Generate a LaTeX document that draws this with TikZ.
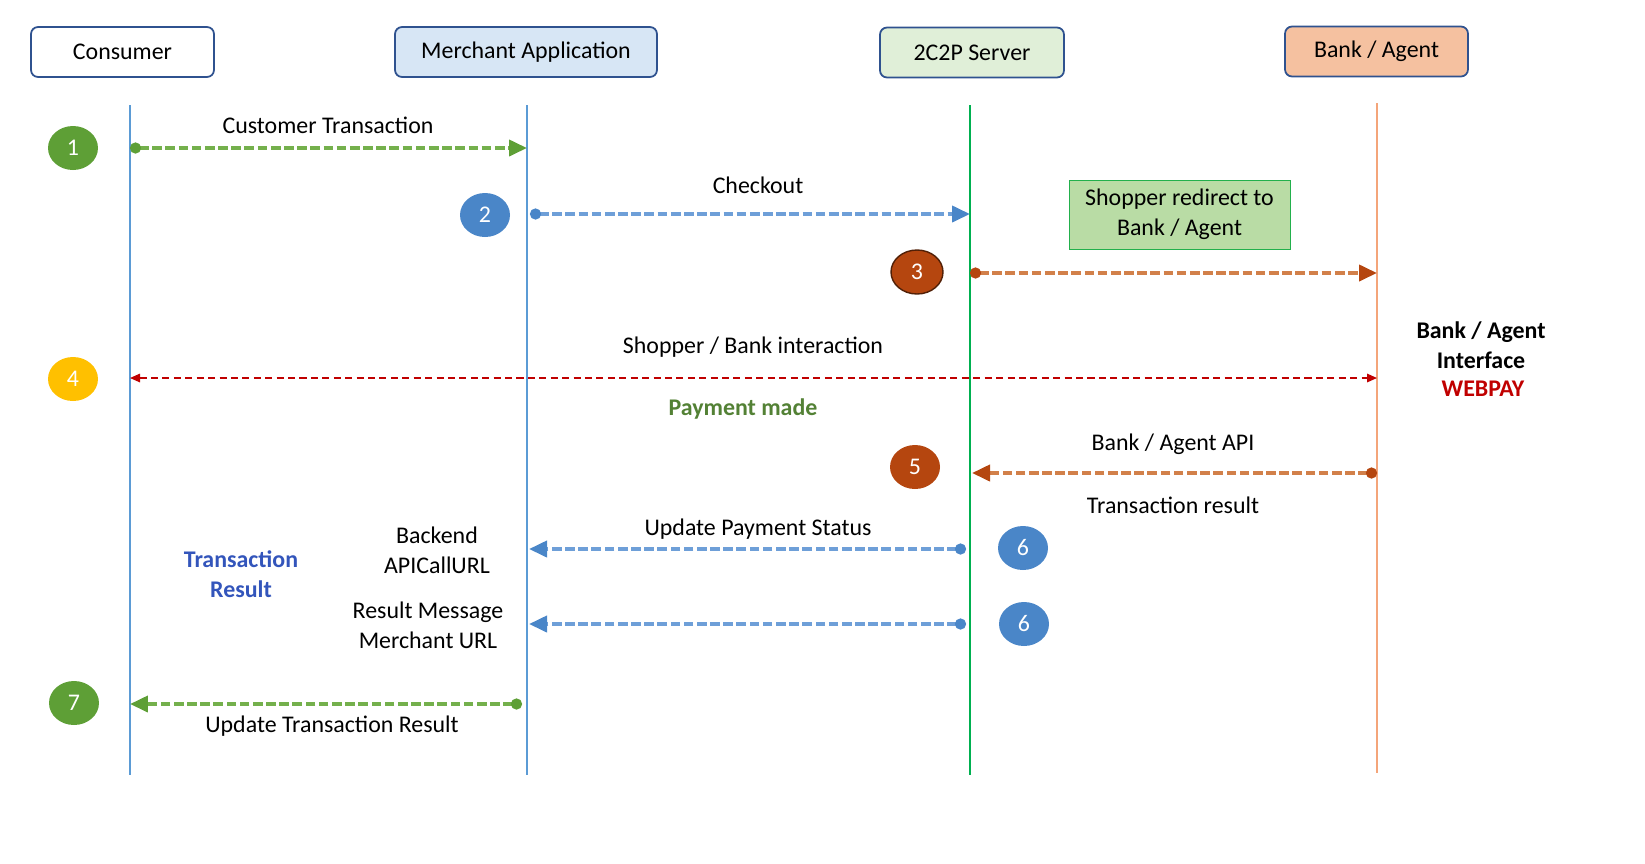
\documentclass[tikz,border=0pt]{standalone}
\usepackage{fontspec}
\setmainfont{Carlito}
\usetikzlibrary{positioning,arrows.meta,shapes.geometric}
\definecolor{hdrblue}{HTML}{2F528F}
\definecolor{merchfill}{HTML}{D7E6F5}
\definecolor{serverfill}{HTML}{E0EFD8}
\definecolor{bankfill}{HTML}{F5C1A0}
\definecolor{lineblue}{HTML}{5B9BD5}
\definecolor{linegreen}{HTML}{00B050}
\definecolor{lineorange}{HTML}{F4A57A}
\definecolor{grn}{HTML}{5E9F36}
\definecolor{grnlight}{HTML}{74B04C}
\definecolor{blu}{HTML}{4A86C8}
\definecolor{blulight}{HTML}{6E9FD8}
\definecolor{brn}{HTML}{B5460F}
\definecolor{brnlight}{HTML}{D2804A}
\definecolor{yel}{HTML}{FFC000}
\definecolor{redd}{HTML}{C00000}
\definecolor{boxfill}{HTML}{B9DCA5}
\definecolor{boxline}{HTML}{22B04C}
\definecolor{paygreen}{HTML}{538135}
\definecolor{resblue}{HTML}{3355BB}
\tikzset{txt/.style={font=\fontsize{13.6}{17}\selectfont}}
\tikzset{actor/.style={font=\fontsize{13.6}{16}\selectfont, draw=hdrblue, line width=1pt, rounded corners=4, minimum height=1cm, inner sep=0pt}}
\tikzset{lifeline/.style={draw, line width=0.6pt}}
\tikzset{badge/.style={ellipse, minimum width=1cm, minimum height=0.88cm, inner sep=0pt, text=white, txt}}
\tikzset{msg/.style args={#1 and #2}{draw=#1, line width=2.2pt, dash pattern=on 5.5pt off 2pt,
    {Circle[length=0.22cm, color=#2]}-{Triangle[length=0.36cm, width=0.32cm, color=#2]}}}
\tikzset{lbl/.style={txt, align=center, inner sep=1pt}}
\tikzset{lblbold/.style={lbl, font=\fontsize{13.6}{17}\selectfont\bfseries}}
\begin{document}
\begin{tikzpicture}[x=0.02cm, y=-0.02cm]
\useasboundingbox (0,0) rectangle (1645,863);
% actors
\node[actor, minimum width=3.66cm] (consumer) at (122.5,52) {Consumer};
\node[actor, minimum width=5.24cm, fill=merchfill] (merchant) at (526,52) {Merchant Application};
\node[actor, minimum width=3.68cm, fill=serverfill] (server) at (972,52.5) {2C2P Server};
\node[actor, minimum width=3.66cm, fill=bankfill] (bank) at (1376.5,51.5) {Bank / Agent};
% lifelines
\coordinate (consumer top) at (130,105);  \coordinate (consumer bot) at (130,775);
\coordinate (merchant top) at (527,105);  \coordinate (merchant bot) at (527,775);
\coordinate (server top) at (970,105);    \coordinate (server bot) at (970,775);
\coordinate (bank top) at (1377,103);     \coordinate (bank bot) at (1377,773);
\draw[lifeline, lineblue] (consumer top) -- (consumer bot);
\draw[lifeline, lineblue] (merchant top) -- (merchant bot);
\draw[lifeline, linegreen] (server top) -- (server bot);
\draw[lifeline, lineorange] (bank top) -- (bank bot);
% 1
\node[badge, fill=grn] (b1) at (73,148) {1};
\coordinate (m1a) at (130,148); \coordinate (m1b) at (527,148);
\draw[msg=grnlight and grn] (m1a) -- (m1b);
\node[lbl] (l1) at (328,125) {Customer Transaction};
% 2
\node[badge, fill=blu] (b2) at (485,215) {2};
\coordinate (m2a) at (530,214); \coordinate (m2b) at (970,214);
\draw[msg=blulight and blu] (m2a) -- (m2b);
\node[lbl] (l2) at (758,185) {Checkout};
\node[lbl, draw=boxline, fill=boxfill, minimum width=4.42cm, minimum height=1.38cm, inner sep=0pt] (redirect) at (1179.5,214.5) {Shopper redirect to\\Bank / Agent};
% 3
\node[badge, fill=brn, draw=brn!45!black, line width=0.8pt, minimum width=1.04cm] (b3) at (917,272) {3};
\coordinate (m3a) at (970,273); \coordinate (m3b) at (1377,273);
\draw[msg=brnlight and brn] (m3a) -- (m3b);
% 4
\node[badge, fill=yel] (b4) at (73,379) {4};
\coordinate (m4a) at (130,378); \coordinate (m4b) at (1377,378);
\draw[draw=redd, line width=0.9pt, dash pattern=on 4pt off 2.5pt,
    {Triangle[length=0.2cm, width=0.17cm]}-{Triangle[length=0.2cm, width=0.17cm]}] (m4a) -- (m4b);
\node[lbl] (l4) at (753,347) {Shopper / Bank interaction};
\node[lblbold, text=paygreen] (paid) at (743,409) {Payment made};
\node[lblbold] (iface) at (1481,345) {Bank / Agent\\Interface};
\node[lblbold, text=redd] (webpay) at (1483,389) {WEBPAY};
% 5
\node[badge, fill=brn] (b5) at (915,467) {5};
\coordinate (m5a) at (1377,473); \coordinate (m5b) at (972,473);
\draw[msg=brnlight and brn] (m5a) -- (m5b);
\node[lbl] (l5) at (1173,444) {Bank / Agent API};
\node[lbl] (l5b) at (1173,505) {Transaction result};
% 6
\node[badge, fill=blu] (b6) at (1023,548) {6};
\coordinate (m6a) at (966,549); \coordinate (m6b) at (529,549);
\draw[msg=blulight and blu] (m6a) -- (m6b);
\node[lbl] (l6) at (758,529) {Update Payment Status};
\node[lbl] (backend) at (437,550) {Backend\\APICallURL};
\node[badge, fill=blu] (b6b) at (1024,624) {6};
\coordinate (m6c) at (966,624); \coordinate (m6d) at (529,624);
\draw[msg=blulight and blu] (m6c) -- (m6d);
\node[lbl] (resmsg) at (428,625) {Result Message\\Merchant URL};
\node[lblbold, text=resblue] (txres) at (241,574) {Transaction\\Result};
% 7
\node[badge, fill=grn] (b7) at (74,703) {7};
\coordinate (m7a) at (522,704); \coordinate (m7b) at (130,704);
\draw[msg=grnlight and grn] (m7a) -- (m7b);
\node[lbl] (l7) at (332,726) {Update Transaction Result};
\end{tikzpicture}
\end{document}
